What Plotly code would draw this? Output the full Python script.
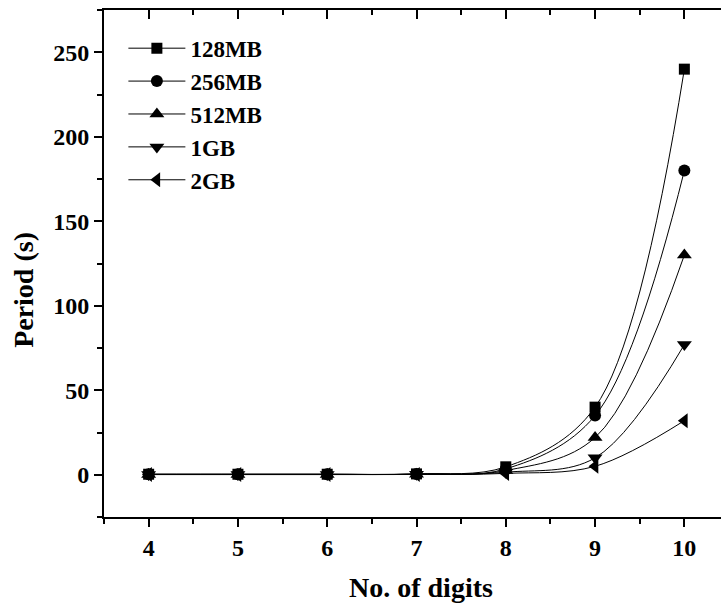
import plotly.graph_objects as go

digits = [4, 5, 6, 7, 8, 9, 10]
series_names = ["128MB", "256MB", "512MB", "1GB", "2GB"]
v128 = [0.3, 0.3, 0.3, 0.5, 4.7, 40, 240]
v256 = [0.3, 0.3, 0.3, 0.4, 3.5, 35, 180]
v512 = [0.2, 0.2, 0.2, 0.3, 2.5, 22, 130]
v1g = [0.2, 0.2, 0.2, 0.3, 1.5, 10, 77]
v2g = [0.1, 0.1, 0.1, 0.2, 0.8, 5, 32]
series_values = [v128, v256, v512, v1g, v2g]
symbols = ["square", "circle", "triangle-up", "triangle-down", "triangle-left"]
sizes = [11, 12, 13, 13, 13]

x_ticks = [4, 5, 6, 7, 8, 9, 10]
y_ticks = [0, 50, 100, 150, 200, 250]
x_title = "No. of digits"
y_title = "Period (s)"

FONT = "Liberation Serif"

fig = go.Figure()
for name, vals, sym, sz in zip(series_names, series_values, symbols, sizes):
    fig.add_trace(go.Scatter(
        x=digits, y=vals, name=name, mode="lines+markers",
        line=dict(color="black", width=1, shape="spline", smoothing=1),
        marker=dict(symbol=sym, size=sz, color="black"),
    ))

# top axis with inward ticks
fig.add_trace(go.Scatter(x=[], y=[], xaxis="x2", showlegend=False, hoverinfo="skip"))

axis_font = dict(family=FONT, size=24, color="black", weight="bold")
title_font = dict(family=FONT, size=28, color="black", weight="bold")

fig.update_layout(
    width=729, height=606,
    margin=dict(l=104, r=0, t=10, b=89),
    paper_bgcolor="white", plot_bgcolor="white",
    showlegend=True,
    legend=dict(
        x=0.031, y=0.967, xanchor="left", yanchor="top",
        bgcolor="rgba(0,0,0,0)", borderwidth=0,
        font=dict(family=FONT, size=23, color="black", weight="bold"),
        itemwidth=57, tracegroupgap=0,
    ),
    xaxis=dict(
        range=[3.5, 10.5], tickvals=x_ticks, ticks="outside", ticklen=8, tickwidth=2,
        tickcolor="black", showline=True, linecolor="black", linewidth=2,
        showgrid=False, zeroline=False, tickfont=axis_font,
        minor=dict(dtick=0.5, ticks="outside", ticklen=5, tickwidth=2, tickcolor="black"),
    ),
    xaxis2=dict(
        range=[3.5, 10.5], overlaying="x", side="top", anchor="y",
        ticks="inside", ticklen=9, tickwidth=2, tickcolor="black",
        tickvals=x_ticks, showticklabels=False, showline=True, linecolor="black", linewidth=2,
        showgrid=False, zeroline=False,
        minor=dict(dtick=0.5, ticks="inside", ticklen=5, tickwidth=2, tickcolor="black"),
    ),
    yaxis=dict(
        range=[-25, 275], tickvals=y_ticks, ticks="outside", ticklen=8, tickwidth=2,
        tickcolor="black", showline=True, linecolor="black", linewidth=2,
        showgrid=False, zeroline=False, tickfont=axis_font,
        minor=dict(dtick=25, ticks="outside", ticklen=5, tickwidth=2, tickcolor="black"),
    ),
    annotations=[
        dict(text=x_title, xref="paper", yref="paper", x=0.507, y=-0.14,
             xanchor="center", yanchor="middle", showarrow=False, font=title_font),
        dict(text=y_title, xref="paper", yref="paper", x=-0.128, y=0.448,
             xanchor="center", yanchor="middle", showarrow=False, textangle=-90,
             font=title_font),
    ],
)

fig.write_html(
    "out.html",
    config={"displayModeBar": False},
    post_script="document.body.style.margin='0';document.body.style.overflow='hidden';",
)
